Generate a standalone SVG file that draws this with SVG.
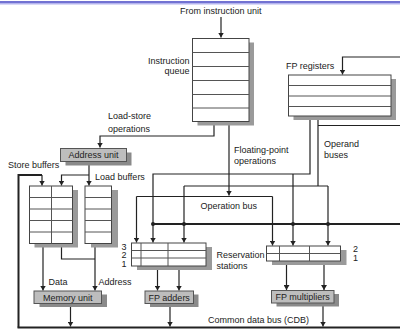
<svg xmlns="http://www.w3.org/2000/svg" width="400" height="329" viewBox="0 0 400 329">
<defs>
<style>
.t{font-family:"Liberation Sans",Arial,sans-serif;font-size:9px;fill:#222}
.m{text-anchor:middle}
.e{text-anchor:end}
.tbl{fill:#fff;stroke:#444;stroke-width:1}
.row{stroke:#555;stroke-width:1;fill:none}
.sh{fill:#9a9a9a}
.unit{fill:#bdbdbd;stroke:#555;stroke-width:1}
.ush{fill:#8a8a8a}
.ln{fill:none;stroke:#222;stroke-width:1.2}
.ar{marker-end:url(#ah)}
.bus{fill:none;stroke:#222;stroke-width:2}
.dot{fill:#222}
</style>
<marker id="ah" markerUnits="userSpaceOnUse" markerWidth="5" markerHeight="6" refX="5" refY="3" orient="auto" viewBox="0 0 5 6">
<path d="M0,0 L5,3 L0,6 z" fill="#222"/>
</marker>
</defs>
<rect width="400" height="329" fill="#fff"/>
<rect x="0" y="1" width="400" height="2" fill="#7272d2"/>
<rect x="0" y="3" width="400" height="1.5" fill="#b4b4ee"/>

<g id="connectors">
<path class="ln ar" d="M221,17 V37.5"/>
<path class="ln ar" d="M214,121.5 V136 H100 V147.5"/>
<path class="ln ar" d="M229,121.5 V195.5"/>
<path class="ln" d="M136.5,196.5 H272.5"/>
<path class="ln ar" d="M136.5,196.5 V242.5"/>
<path class="ln ar" d="M272.5,196.5 V245.5"/>
<path class="ln ar" d="M400,57 H342.5 V74.5"/>
<path class="ln ar" d="M310,116 V174 H153 V242.5"/>
<path class="ln ar" d="M293,174 V245.5"/>
<path class="ln" d="M318,116 V186"/>
<path class="ln" d="M318,125.5 H400"/>
<path class="ln" d="M184,186 H328"/>
<path class="ln ar" d="M184,186 V242.5"/>
<path class="ln ar" d="M328,186 V245.5"/>
<path class="bus" d="M153,224 H400"/>
<circle class="dot" cx="153" cy="224" r="2"/>
<circle class="dot" cx="184" cy="224" r="2"/>
<circle class="dot" cx="293" cy="224" r="2"/>
<circle class="dot" cx="328" cy="224" r="2"/>
<path class="ln ar" d="M89,161.5 V185.5"/>
<path class="ln ar" d="M89,175 H61.5 V185.5"/>
<path class="bus" d="M18.5,327.5 V175 H42"/>
<path class="ln ar" d="M42,175 V185.5"/>
<path class="bus" d="M17.5,327.5 H400"/>
<path class="ln ar" d="M43,243.5 V290.5"/>
<path class="ln" d="M61.5,243.5 V259 H95"/>
<path class="ln ar" d="M95,243.5 V290.5"/>
<path class="ln ar" d="M157.5,266 V290.5"/>
<path class="ln ar" d="M179,266 V290.5"/>
<path class="ln ar" d="M286.5,261 V290"/>
<path class="ln ar" d="M324,261 V290"/>
<path class="ln ar" d="M70.5,303.5 V326.5"/>
<path class="ln ar" d="M170,303.5 V326.5"/>
<path class="ln ar" d="M323,303 V326.5"/>
</g>

<g id="source">
<text class="t" x="180" y="14">From instruction unit</text>
</g>

<g id="instruction-queue">
<rect class="sh" x="197.5" y="42.5" width="56.5" height="83"/>
<rect class="tbl" x="192.5" y="38.5" width="56.5" height="83"/>
<path class="row" d="M192.5,52.5 H249 M192.5,66.5 H249 M192.5,80.5 H249 M192.5,94.5 H249 M192.5,108 H249"/>
<text class="t e" x="189.5" y="63.5">Instruction</text>
<text class="t e" x="189.5" y="74">queue</text>
</g>

<g id="fp-registers">
<rect class="sh" x="293.5" y="79" width="102.5" height="41"/>
<rect class="tbl" x="288.5" y="75" width="102.5" height="41"/>
<path class="row" d="M288.5,85.5 H391 M288.5,96 H391 M288.5,106.5 H391"/>
<text class="t" x="286" y="68.5">FP registers</text>
</g>

<g id="labels">
<text class="t" x="108" y="119">Load-store</text>
<text class="t" x="108" y="131.5">operations</text>
<text class="t" x="234" y="152.5">Floating-point</text>
<text class="t" x="234" y="163.5">operations</text>
<text class="t" x="324" y="146.5">Operand</text>
<text class="t" x="324" y="157.5">buses</text>
<text class="t" x="200.5" y="209">Operation bus</text>
<text class="t" x="48.5" y="285">Data</text>
<text class="t" x="98.5" y="285">Address</text>
<text class="t" x="208" y="322.5">Common data bus (CDB)</text>
</g>

<g id="address-unit">
<rect class="ush" x="65.5" y="152.5" width="66" height="13"/>
<rect class="unit" x="60.5" y="148.5" width="66" height="13"/>
<text class="t m" x="93.5" y="158.3">Address unit</text>
</g>

<g id="store-buffers">
<rect class="sh" x="34.5" y="190" width="43.5" height="57.5"/>
<rect class="tbl" x="29.5" y="186" width="43" height="57.5"/>
<path class="row" d="M51.5,186 V243.5 M29.5,197.5 H72.5 M29.5,209 H72.5 M29.5,220.5 H72.5 M29.5,232 H72.5"/>
<text class="t" x="8" y="168">Store buffers</text>
</g>

<g id="load-buffers">
<rect class="sh" x="91" y="190" width="27" height="57.5"/>
<rect class="tbl" x="85" y="186" width="26.5" height="57.5"/>
<path class="row" d="M85,197.5 H111.5 M85,209 H111.5 M85,220.5 H111.5 M85,232 H111.5"/>
<text class="t" x="95" y="180">Load buffers</text>
</g>

<g id="adder-reservation-stations">
<rect class="sh" x="137" y="247" width="75" height="23"/>
<rect class="tbl" x="131.5" y="243" width="74.5" height="23"/>
<path class="row" d="M131.5,250.5 H206 M131.5,258 H206 M141,243 V266 M168,243 V266"/>
<text class="t" x="121.5" y="249.5">3</text>
<text class="t" x="121.5" y="258">2</text>
<text class="t" x="121.5" y="266.5">1</text>
<text class="t" x="216.5" y="257.5">Reservation</text>
<text class="t" x="216.5" y="269">stations</text>
</g>

<g id="multiplier-reservation-stations">
<rect class="sh" x="272" y="250" width="74.5" height="15"/>
<rect class="tbl" x="266.5" y="246" width="74" height="15"/>
<path class="row" d="M266.5,253.5 H340.5 M279.5,246 V261 M309.5,246 V261"/>
<text class="t" x="353" y="252">2</text>
<text class="t" x="353" y="261">1</text>
</g>

<g id="memory-unit">
<rect class="ush" x="39.5" y="294.5" width="67.5" height="12.5"/>
<rect class="unit" x="34" y="291" width="67.5" height="12.5"/>
<text class="t m" x="67.7" y="300.6">Memory unit</text>
</g>

<g id="fp-adders">
<rect class="ush" x="150" y="294.5" width="48.5" height="12.5"/>
<rect class="unit" x="145" y="291" width="48.5" height="12.5"/>
<text class="t m" x="169.2" y="300.6">FP adders</text>
</g>

<g id="fp-multipliers">
<rect class="ush" x="276.5" y="294" width="62.5" height="12.5"/>
<rect class="unit" x="271.5" y="290.5" width="62.5" height="12.5"/>
<text class="t m" x="302.7" y="300.1">FP multipliers</text>
</g>
</svg>
